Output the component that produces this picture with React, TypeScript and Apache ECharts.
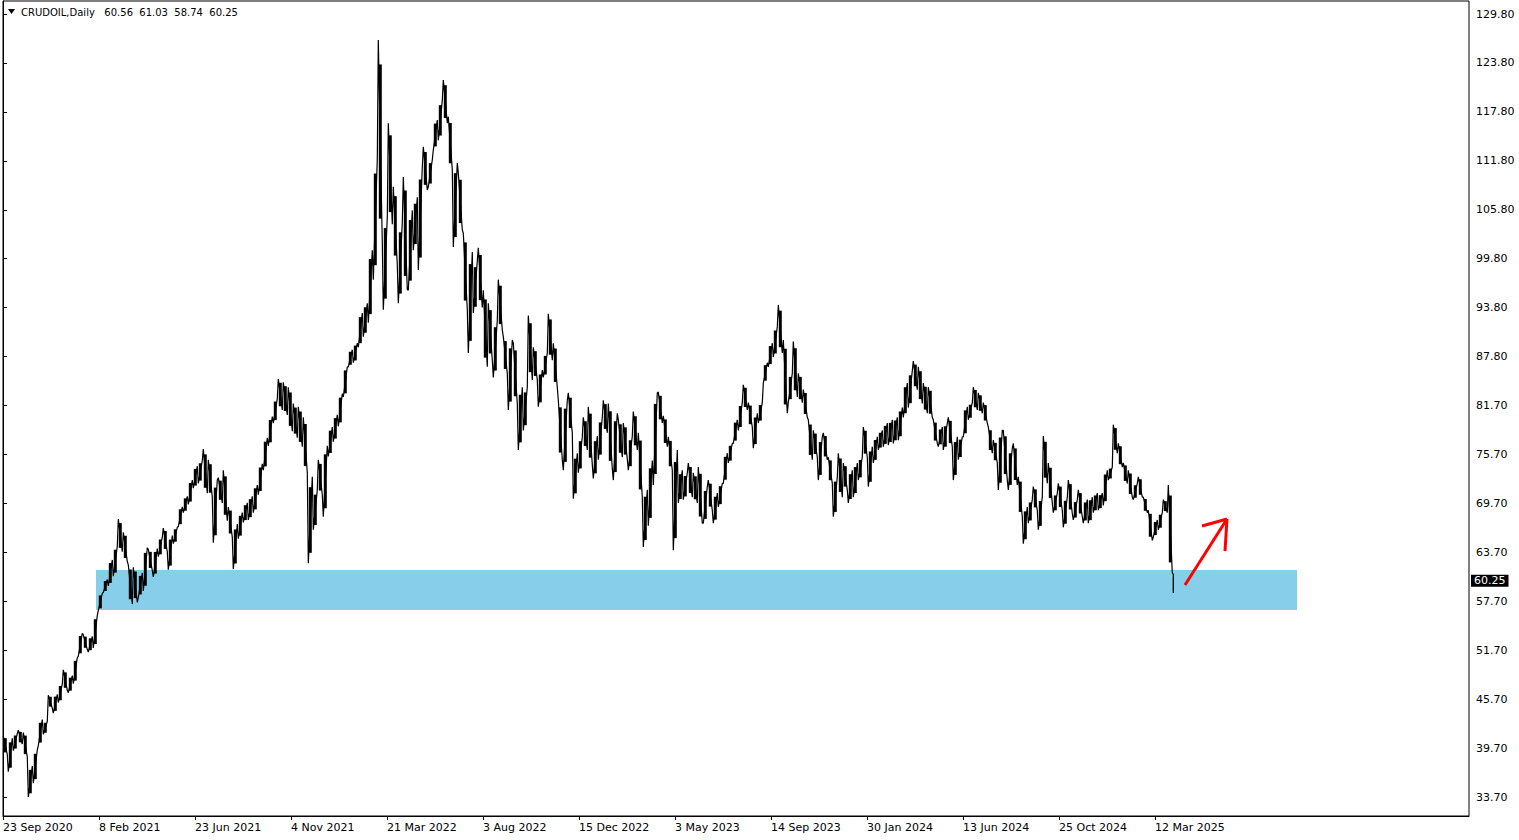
import React, { useEffect, useRef } from "react";
import * as echarts from "echarts";

// ---- data (5-bar chunks of daily bars) ----
const CHUNK = 5;
const chunkHigh = [
  41.2, 40.9, 41.5, 41.9, 41.6, 37.5, 39.5, 43.2, 43.0, 46.2,
  46.3, 47.6, 49.3, 48.6, 50.8, 53.8, 53.6, 53.4, 56.0, 58.7,
  60.4, 62.8, 64.5, 67.8, 66.2, 62.2, 61.9, 61.2, 64.3, 64.1,
  64.2, 65.6, 66.7, 65.8, 66.8, 69.3, 70.6, 72.6, 74.3, 75.0,
  76.4, 75.1, 72.6, 72.9, 73.8, 69.3, 67.2, 68.6, 69.8, 70.6,
  72.0, 74.6, 77.8, 80.4, 82.6, 85.0, 84.6, 84.0, 82.0, 81.6,
  80.3, 73.0, 71.4, 75.1, 76.8, 79.1, 80.6, 83.2, 86.5, 88.6,
  89.4, 93.1, 94.3, 100.8, 112.0, 126.6, 104.9, 116.4, 108.6, 104.2,
  109.8, 105.7, 107.3, 111.0, 113.5, 111.9, 116.8, 119.2, 121.7, 117.2,
  111.5, 110.3, 102.9, 100.6, 99.5, 101.1, 95.9, 94.3, 92.2, 97.2,
  90.2, 89.8, 89.4, 84.0, 84.0, 92.8, 88.9, 86.1, 88.2, 93.0,
  89.4, 82.4, 82.4, 83.3, 75.9, 77.9, 80.3, 81.6, 78.0, 80.3,
  82.4, 82.0, 80.8, 80.0, 79.6, 78.0, 81.0, 78.4, 71.4, 75.0,
  83.3, 83.4, 80.5, 77.9, 76.3, 73.8, 73.5, 74.7, 73.5, 74.2,
  71.8, 72.6, 71.0, 72.2, 75.9, 77.1, 80.0, 82.1, 84.3, 82.1,
  80.8, 82.1, 87.0, 89.4, 91.4, 94.1, 89.8, 85.7, 89.6, 85.7,
  83.7, 80.0, 78.7, 77.9, 78.4, 75.4, 73.0, 75.9, 74.7, 73.8,
  74.7, 75.4, 79.1, 76.7, 77.9, 78.7, 79.6, 80.0, 80.3, 81.5,
  84.5, 86.0, 87.2, 86.5, 84.5, 84.0, 80.0, 79.1, 79.6, 80.3,
  77.9, 77.9, 81.6, 82.1, 84.0, 83.3, 82.1, 79.1, 77.5, 78.7,
  78.7, 76.5, 77.1, 73.0, 69.3, 70.2, 71.8, 70.5, 78.0, 74.7,
  71.0, 72.2, 70.5, 72.6, 70.2, 71.4, 70.2, 70.5, 71.0, 71.0,
  73.8, 74.2, 79.4, 77.1, 74.7, 73.8, 72.2, 73.0, 70.5, 68.9,
  67.7, 68.6, 70.2, 72.0, 61.03,
];
const chunkLow = [
  38.9, 36.8, 39.4, 40.2, 38.6, 33.7, 35.4, 40.0, 41.4, 44.6,
  44.0, 45.3, 46.8, 46.5, 47.6, 51.0, 51.8, 51.5, 52.0, 56.6,
  58.8, 59.6, 60.8, 63.8, 62.6, 57.4, 57.6, 58.2, 59.0, 61.5,
  60.7, 63.2, 63.8, 61.6, 64.8, 66.9, 68.6, 69.6, 71.6, 72.2,
  71.0, 70.5, 64.9, 69.8, 67.6, 65.6, 61.7, 65.4, 67.4, 67.7,
  68.6, 70.8, 73.8, 76.8, 79.6, 81.2, 80.6, 78.6, 77.8, 76.7,
  73.5, 62.4, 66.5, 70.8, 68.1, 75.5, 77.3, 79.2, 82.8, 86.5,
  87.0, 88.9, 90.2, 91.9, 97.2, 101.7, 93.5, 104.0, 99.0, 94.3,
  96.0, 95.9, 100.8, 98.4, 108.2, 108.6, 113.1, 114.3, 116.4, 110.7,
  101.2, 103.3, 93.5, 88.2, 93.1, 93.8, 86.5, 87.3, 85.2, 91.0,
  85.7, 81.2, 82.0, 76.3, 78.7, 84.9, 84.9, 81.6, 85.2, 87.3,
  84.0, 75.1, 73.8, 78.4, 70.3, 73.5, 76.3, 74.5, 72.8, 75.1,
  78.4, 74.0, 72.6, 75.4, 75.2, 73.8, 76.3, 70.5, 64.4, 67.0,
  72.0, 79.6, 76.7, 73.8, 64.0, 69.8, 70.2, 70.5, 69.8, 67.3,
  67.3, 68.9, 67.3, 69.3, 72.2, 74.7, 77.1, 78.7, 81.2, 79.1,
  76.5, 79.6, 84.5, 86.5, 87.7, 88.2, 80.8, 82.1, 82.8, 82.1,
  80.3, 75.1, 75.4, 72.6, 75.1, 72.2, 68.1, 70.5, 71.4, 69.8,
  70.5, 72.6, 75.4, 71.8, 74.7, 76.3, 76.7, 76.9, 77.1, 77.5,
  80.3, 81.5, 83.7, 82.0, 80.8, 80.3, 77.1, 76.7, 76.3, 76.7,
  72.6, 75.1, 77.9, 80.0, 81.2, 80.8, 79.6, 75.9, 74.7, 71.4,
  72.6, 71.4, 72.0, 68.1, 64.8, 67.3, 68.9, 66.5, 72.2, 69.8,
  68.6, 68.9, 66.8, 68.5, 67.7, 68.1, 67.3, 67.3, 68.6, 68.9,
  69.5, 72.6, 75.9, 74.2, 72.2, 70.5, 70.2, 70.5, 68.6, 65.2,
  65.6, 66.5, 68.6, 61.2, 58.74,
];

const symbolName = "CRUDOIL,Daily";
const lastBarOHLC = ["60.56", "61.03", "58.74", "60.25"];
const lastClose = 60.25;

const xLabels = [
  "23 Sep 2020", "8 Feb 2021", "23 Jun 2021", "4 Nov 2021", "21 Mar 2022",
  "3 Aug 2022", "15 Dec 2022", "3 May 2023", "14 Sep 2023", "30 Jan 2024",
  "13 Jun 2024", "25 Oct 2024", "12 Mar 2025",
];
const BARS_PER_LABEL = 96;
const yLabels = [
  "129.80", "123.80", "117.80", "111.80", "105.80", "99.80", "93.80", "87.80",
  "81.70", "75.70", "69.70", "63.70", "57.70", "51.70", "45.70", "39.70", "33.70",
];

// support zone (bar index range, price range) and arrow annotation
const zone = [[93, 1294, 56.65, 61.56]];
const arrowSegs = [
  [1182, 59.72, 1224, 67.82],
  [1224, 67.82, 1199, 66.96],
  [1224, 67.82, 1222, 63.89],
];

const X_MAX = 1466;
const Y_MIN = 31.37;
const Y_MAX = 131.4;
const FONT = "DejaVu Sans";

export default function App() {
  const ref = useRef<HTMLDivElement>(null);
  useEffect(() => {
    document.body.style.margin = "0";
    const chart = echarts.init(ref.current!, null, { renderer: "svg", width: 1519, height: 840 });

    const n = chunkHigh.length;
    const pts: number[][] = [];
    const ranges: number[][] = [];
    for (let k = 0; k < n; k++) {
      const h = chunkHigh[k];
      const l = chunkLow[k];
      const mid = (h + l) / 2;
      const next = k + 1 < n ? (chunkHigh[k + 1] + chunkLow[k + 1]) / 2 : l;
      const rising = next > mid;
      const span = k === n - 1 ? 1 : CHUNK;
      pts.push([k * CHUNK + 0.3, rising ? l : h]);
      pts.push([k * CHUNK + span - 0.7, rising ? h : l]);
      ranges.push([k * CHUNK + span / 2 - 0.2, l, h, span]);
    }

    const xTickVals = xLabels.map((_, i) => i * BARS_PER_LABEL);
    const yTop = parseFloat(yLabels[0]);
    const yBot = parseFloat(yLabels[yLabels.length - 1]);
    const yStep = (yTop - yBot) / (yLabels.length - 1);
    const yTickVals = yLabels.map((_, i) => yTop - i * yStep);

    chart.setOption({
      animation: false,
      backgroundColor: "#fff",
      textStyle: { fontFamily: FONT },
      grid: { left: 3, right: 50, top: 1, bottom: 24, show: true, borderColor: "#000", borderWidth: 1, backgroundColor: "#fff" },
      xAxis: {
        type: "value",
        min: 0,
        max: X_MAX,
        axisLine: { show: true, lineStyle: { color: "#000", width: 1 } },
        axisTick: { show: true, length: 4, lineStyle: { color: "#000" }, customValues: xTickVals },
        axisLabel: {
          customValues: xTickVals,
          formatter: (v: number) => xLabels[Math.round(v / BARS_PER_LABEL)] ?? "",
          align: "left",
          margin: 6,
          color: "#000",
          fontSize: 11,
          fontFamily: FONT,
        },
        splitLine: { show: false },
      },
      yAxis: {
        type: "value",
        position: "right",
        min: Y_MIN,
        max: Y_MAX,
        axisLine: { show: true, lineStyle: { color: "#000", width: 1 } },
        axisTick: { show: true, length: 4, lineStyle: { color: "#000" }, customValues: yTickVals },
        axisLabel: {
          customValues: yTickVals,
          formatter: (v: number) => yLabels[Math.round((yTop - v) / yStep)] ?? "",
          margin: 7,
          color: "#000",
          fontSize: 11,
          fontFamily: FONT,
        },
        splitLine: { show: false },
      },
      series: [
        {
          type: "custom",
          z: 1,
          silent: true,
          data: zone,
          renderItem: (params: any, api: any) => {
            const p0 = api.coord([api.value(0), api.value(3)]);
            const p1 = api.coord([api.value(1), api.value(2)]);
            return {
              type: "rect",
              shape: { x: p0[0], y: p0[1], width: p1[0] - p0[0], height: p1[1] - p0[1] },
              style: { fill: "#87CEEB" },
            };
          },
        },
        {
          type: "custom",
          z: 2,
          silent: true,
          data: ranges,
          renderItem: (params: any, api: any) => {
            const lo = api.coord([api.value(0), api.value(1)]);
            const hi = api.coord([api.value(0), api.value(2)]);
            const inset = (hi[1] - lo[1]) * -0.12;
            return {
              type: "line",
              shape: { x1: lo[0], y1: lo[1] - inset, x2: hi[0], y2: hi[1] + inset },
              style: { stroke: "#000", lineWidth: Math.min(3, api.value(3) * 0.6) },
            };
          },
        },
        {
          type: "line",
          z: 3,
          data: pts,
          showSymbol: false,
          symbol: "none",
          silent: true,
          lineStyle: { color: "#000", width: 1.2 },
          markLine: {
            silent: true,
            symbol: "none",
            lineStyle: { color: "rgba(0,0,0,0)", width: 0 },
            data: [{ yAxis: lastClose }],
            label: {
              position: "end",
              distance: 2,
              formatter: lastClose.toFixed(2),
              color: "#fff",
              backgroundColor: "#000",
              padding: [1, 3, 0, 3],
              fontSize: 11,
              fontFamily: FONT,
            },
          },
        },
        {
          type: "custom",
          z: 4,
          silent: true,
          data: arrowSegs,
          renderItem: (params: any, api: any) => {
            const a = api.coord([api.value(0), api.value(1)]);
            const b = api.coord([api.value(2), api.value(3)]);
            return {
              type: "line",
              shape: { x1: a[0], y1: a[1], x2: b[0], y2: b[1] },
              style: { stroke: "#FF0000", lineWidth: 3, lineCap: "butt" },
            };
          },
        },
      ],
      graphic: [
        { type: "polygon", shape: { points: [[8, 9], [15, 9], [11.5, 14]] }, style: { fill: "#000" } },
        {
          type: "text",
          x: 21,
          y: 12,
          style: {
            text: symbolName + "\u00A0\u00A0\u00A0" + lastBarOHLC.join("\u00A0\u00A0"),
            fill: "#000",
            font: `10px '${FONT}'`,
            verticalAlign: "middle",
          },
        },
      ],
    });
    return () => chart.dispose();
  }, []);
  return <div ref={ref} style={{ position: "fixed", left: 0, top: 0, width: 1519, height: 840 }} />;
}
